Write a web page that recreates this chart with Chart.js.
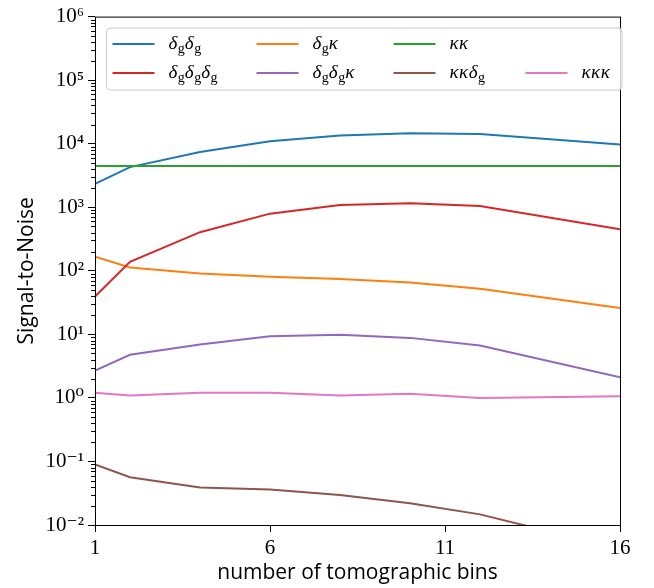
<!DOCTYPE html>
<html>
<head>
<meta charset="utf-8">
<script src="https://cdn.jsdelivr.net/npm/chart.js@4/dist/chart.umd.min.js"></script>
<style>
  html, body { margin: 0; padding: 0; background: #fff; }
</style>
</head>
<body>
<canvas id="snr" width="654" height="588"></canvas>
<script>
const BINS = [1, 2, 4, 6, 8, 10, 12, 16];
const LABELS = ['δ_gδ_g', 'δ_gκ', 'κκ', 'δ_gδ_gδ_g', 'δ_gδ_gκ', 'κκδ_g', 'κκκ'];
const DGDG = [2340, 4280, 7430, 10900, 13450, 14600, 14250, 9710];
const DGK = [166, 113, 90.7, 80.5, 74, 65.5, 52.2, 26];
const KK = [4440, 4440, 4440, 4440, 4440, 4440, 4440, 4440];
const DGDGDG = [39.5, 138, 405, 793, 1084, 1153, 1047, 451];
const DGDGK = [2.70, 4.76, 6.90, 9.31, 9.9, 8.8, 6.66, 2.12];
const KKDG = [0.0896, 0.0566, 0.039, 0.0363, 0.0296, 0.0219, 0.0147, 0.0042];
const KKK = [1.21, 1.09, 1.21, 1.21, 1.09, 1.16, 1.0, 1.06];
const SERIES = [DGDG, DGK, KK, DGDGDG, DGDGK, KKDG, KKK];
const Y_TICKS = [1e-2, 1e-1, 1, 10, 100, 1e3, 1e4, 1e5, 1e6];
const X_TICKS = [1, 6, 11, 16];

const COLORS = ['#1f77b4', '#ff7f0e', '#2ca02c', '#d62728', '#9467bd', '#8c564b', '#e377c2'];
const LEGEND_ROWS = [[0, 1, 2], [3, 4, 5, 6]];
const SERIF = '"Liberation Serif", "DejaVu Serif", serif';
const SANS = '"Open Sans", sans-serif';
const SUP = { '-': '⁻', '0': '⁰', '1': '¹', '2': '²', '3': '³', '4': '⁴', '5': '⁵', '6': '⁶', '7': '⁷', '8': '⁸', '9': '⁹' };

function powLabel(value) {
    const e = Math.round(Math.log10(value));
    return '10' + String(e).split('').map(c => SUP[c]).join('');
}

function getDatasets() {
    return SERIES.map((vals, i) => ({
        label: LABELS[i],
        data: BINS.map((b, j) => ({ x: b, y: vals[j] })),
        borderColor: COLORS[i],
        backgroundColor: COLORS[i],
        borderWidth: 2,
        pointRadius: 0,
        tension: 0,
        fill: false,
        order: SERIES.length - i
    }));
}

// draws δ_g style labels: greek in italic, "_x" as a subscript
function drawMathText(ctx, text, x, y) {
    let cx = x;
    for (let i = 0; i < text.length; i++) {
        let ch = text[i];
        if (ch === '_') {
            ch = text[++i];
            ctx.font = '14px ' + SERIF;
            ctx.fillText(ch, cx, y + 4);
            cx += ctx.measureText(ch).width;
        } else {
            ctx.font = 'italic 19px ' + SERIF;
            ctx.fillText(ch, cx, y);
            cx += ctx.measureText(ch).width + 0.5;
        }
    }
}

function getFramePlugin() {
    return {
        id: 'frame',
        afterDraw(chart) {
            const { ctx, chartArea: a, scales: { y } } = chart;
            ctx.save();
            ctx.strokeStyle = '#000';
            ctx.lineWidth = 1;
            ctx.strokeRect(a.left + 0.5, a.top + 0.5, a.right - a.left, a.bottom - a.top);

            // minor log ticks
            ctx.beginPath();
            for (let e = -2; e < 6; e++) {
                for (let k = 2; k < 10; k++) {
                    const py = Math.round(y.getPixelForValue(k * Math.pow(10, e))) + 0.5;
                    ctx.moveTo(a.left - 4, py);
                    ctx.lineTo(a.left, py);
                }
            }
            ctx.stroke();
            ctx.restore();
        }
    };
}

function getLegendPlugin() {
    return {
        id: 'boxLegend',
        afterDraw(chart) {
            const { ctx, chartArea: a } = chart;
            const left = a.left + 11.5, top = a.top + 11.5;
            const w = a.right + 2 - left, h = 62;
            const colX = [6, 150, 287, 419];
            const rowY = [16, 45];

            ctx.save();
            ctx.beginPath();
            ctx.roundRect(left, top, w, h, 4);
            ctx.fillStyle = 'rgba(255,255,255,0.8)';
            ctx.fill();
            ctx.strokeStyle = '#cccccc';
            ctx.lineWidth = 1;
            ctx.stroke();

            ctx.fillStyle = '#000';
            ctx.textBaseline = 'alphabetic';
            LEGEND_ROWS.forEach((row, r) => {
                row.forEach((di, c) => {
                    const ds = chart.data.datasets[di];
                    const x = left + colX[c];
                    const yy = top + rowY[r];
                    ctx.beginPath();
                    ctx.strokeStyle = ds.borderColor;
                    ctx.lineWidth = 2;
                    ctx.moveTo(x, yy);
                    ctx.lineTo(x + 42, yy);
                    ctx.stroke();
                    drawMathText(ctx, ds.label, x + 56, yy + 5);
                });
            });
            ctx.restore();
        }
    };
}

new Chart(document.getElementById('snr'), {
    type: 'line',
    data: { datasets: getDatasets() },
    options: {
        responsive: false,
        animation: false,
        devicePixelRatio: 1,
        layout: { padding: { top: 15, right: 34, left: 0, bottom: 0 } },
        plugins: {
            legend: { display: false },
            tooltip: { enabled: false }
        },
        scales: {
            x: {
                type: 'linear',
                min: 1,
                max: 16,
                afterBuildTicks: s => { s.ticks = X_TICKS.map(v => ({ value: v })); },
                afterFit: s => { s.height = 63; },
                border: { display: false },
                grid: { drawOnChartArea: false, drawTicks: true, tickLength: 7, tickColor: '#000' },
                ticks: { color: '#000', padding: 4, maxRotation: 0, font: { family: SERIF, size: 21 } },
                title: { display: true, text: 'number of tomographic bins', color: '#000',
                         font: { family: SANS, size: 21 }, padding: { top: 0, bottom: 2 } }
            },
            y: {
                type: 'logarithmic',
                min: 1e-2,
                max: 1e6,
                afterBuildTicks: s => { s.ticks = Y_TICKS.map(v => ({ value: v })); },
                afterFit: s => { s.width = 95; },
                border: { display: false },
                grid: { drawOnChartArea: false, drawTicks: true, tickLength: 7, tickColor: '#000' },
                ticks: { color: '#000', padding: 4, font: { family: SERIF, size: 21 }, callback: powLabel },
                title: { display: true, text: 'Signal-to-Noise', color: '#000',
                         font: { family: SANS, size: 21 }, padding: { top: 14, bottom: 0 } }
            }
        }
    },
    plugins: [getFramePlugin(), getLegendPlugin()]
});
</script>
</body>
</html>
